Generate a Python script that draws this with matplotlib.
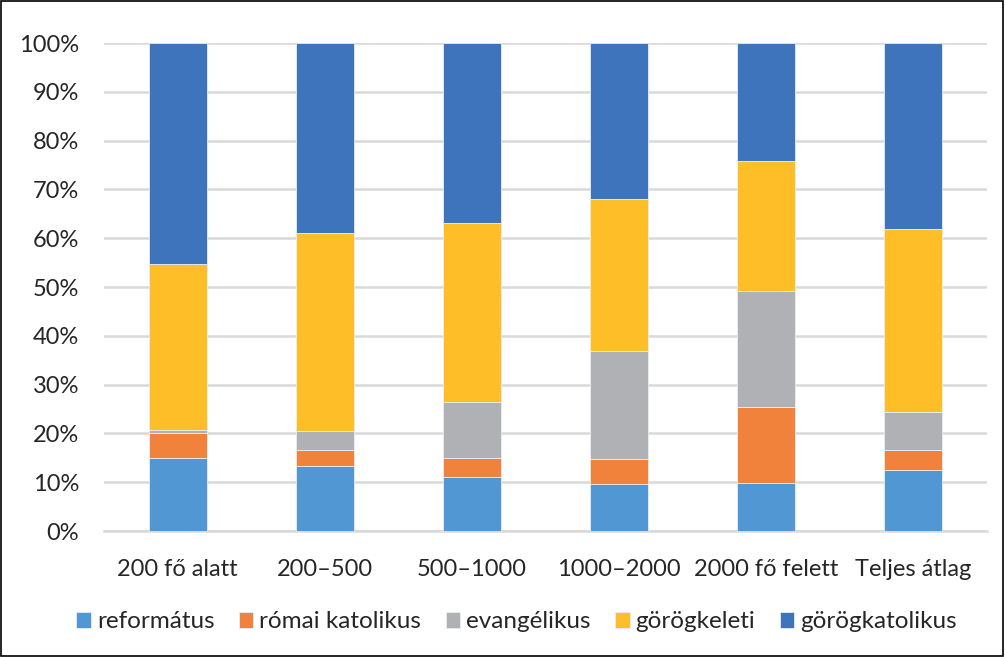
import numpy as np
import matplotlib.pyplot as plt
from matplotlib.patches import Rectangle

plt.rcParams['font.family'] = ['Lato', 'DejaVu Sans']

categories = ['200 fő alatt', '200–500', '500–1000', '1000–2000', '2000 fő felett', 'Teljes átlag']
reformatus = [14.9, 13.3, 11.1, 9.6, 9.9, 12.4]
romai_katolikus = [5.1, 3.4, 3.9, 5.2, 15.6, 4.1]
evangelikus = [0.6, 3.7, 11.5, 22.0, 23.6, 7.9]
gorogkeleti = [34.1, 40.6, 36.7, 31.2, 26.7, 37.4]
gorogkatolikus = [45.3, 39.0, 36.8, 32.0, 24.2, 38.2]

series = [
    ('református', reformatus, '#5097d3'),
    ('római katolikus', romai_katolikus, '#f0823b'),
    ('evangélikus', evangelikus, '#b0b1b4'),
    ('görögkeleti', gorogkeleti, '#fdbe27'),
    ('görögkatolikus', gorogkatolikus, '#3d74bc'),
]

fig = plt.figure(figsize=(10.05, 6.57), dpi=100)
ax = fig.add_axes([104/1005, 1-531/657, 883/1005, 488/657])

x = np.arange(len(categories))
totals = np.sum([s[1] for s in series], axis=0)
bottom = np.zeros(len(categories))
for name, vals, col in series:
    share = np.array(vals) / totals
    ax.bar(x, share, 0.395, bottom=bottom, color=col, label=name,
           edgecolor='#e8eef6', linewidth=0.6, zorder=3)
    bottom += share

ax.set_xlim(-0.5, 5.5)
ax.set_ylim(0, 1)
ax.set_yticks(np.arange(0, 1.01, 0.1))
ax.set_yticklabels([f'{int(v)}%' for v in np.arange(0, 101, 10)])
ax.set_xticks(x)
ax.set_xticklabels(categories)
ax.tick_params(axis='both', length=0, labelsize=17, colors='#262626')
ax.tick_params(axis='x', pad=20)
ax.tick_params(axis='y', pad=18)
ax.grid(axis='y', color='#d9d9d9', linewidth=1.8, zorder=0)
for sp in ['top', 'right', 'left']:
    ax.spines[sp].set_visible(False)
ax.spines['bottom'].set_color('#d9d9d9')
ax.spines['bottom'].set_linewidth(1.8)

fig.legend(loc='center', bbox_to_anchor=(0.514, 1-622/657), ncol=5, frameon=False,
           fontsize=17.5, handlelength=0.6, handleheight=0.6, handletextpad=0.25,
           columnspacing=1.0, labelcolor='#262626')

fig.add_artist(Rectangle((0.0005, 0.0008), 0.998, 0.998, transform=fig.transFigure,
                         fill=False, edgecolor='black', linewidth=1.2))

fig.savefig('out.png', dpi=100)
